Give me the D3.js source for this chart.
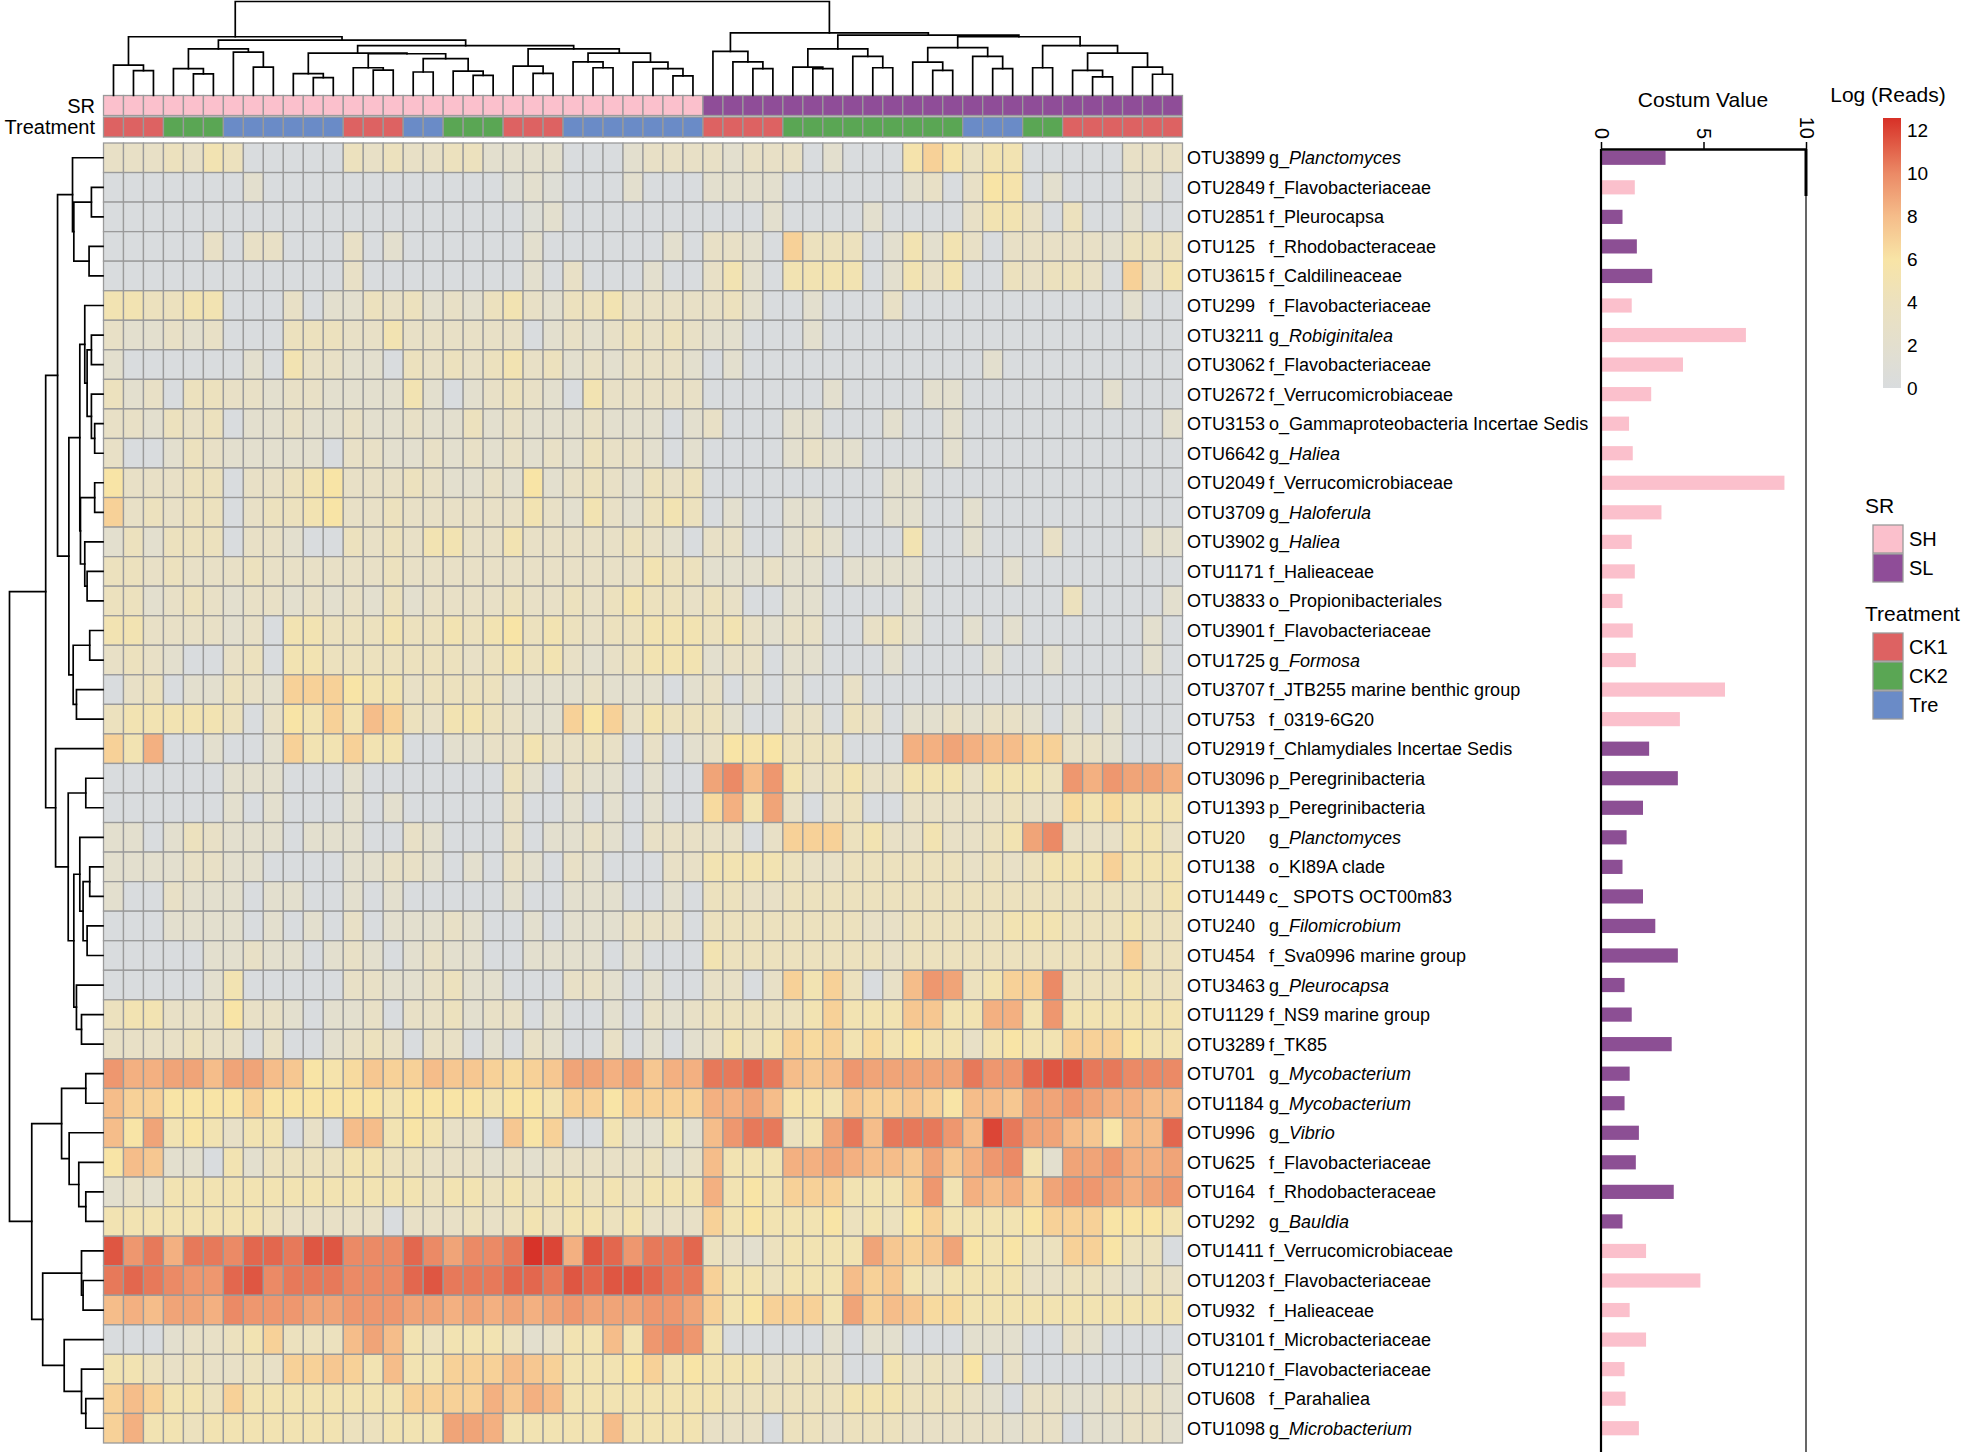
<!DOCTYPE html>
<html><head><meta charset="utf-8">
<script src="https://cdn.jsdelivr.net/npm/d3@7"></script>
<style>
body{margin:0;background:#fff}
svg{display:block}
text{font-family:"Liberation Sans",Arial,sans-serif;fill:#000}
</style>
</head><body>
<svg id="chart" width="1968" height="1452"></svg>
<script>
// ---------------- DATA ----------------
const otuIds = ["OTU3899","OTU2849","OTU2851","OTU125","OTU3615","OTU299","OTU3211","OTU3062","OTU2672","OTU3153","OTU6642","OTU2049","OTU3709","OTU3902","OTU1171","OTU3833","OTU3901","OTU1725","OTU3707","OTU753","OTU2919","OTU3096","OTU1393","OTU20","OTU138","OTU1449","OTU240","OTU454","OTU3463","OTU1129","OTU3289","OTU701","OTU1184","OTU996","OTU625","OTU164","OTU292","OTU1411","OTU1203","OTU932","OTU3101","OTU1210","OTU608","OTU1098"];
const taxRank = ["g_","f_","f_","f_","f_","f_","g_","f_","f_","o_","g_","f_","g_","g_","f_","o_","f_","g_","f_","f_","f_","p_","p_","g_","o_","c_","g_","f_","g_","f_","f_","g_","g_","g_","f_","f_","g_","f_","f_","f_","f_","f_","f_","g_"];
const taxName = ["Planctomyces","Flavobacteriaceae","Pleurocapsa","Rhodobacteraceae","Caldilineaceae","Flavobacteriaceae","Robiginitalea","Flavobacteriaceae","Verrucomicrobiaceae","Gammaproteobacteria Incertae Sedis","Haliea","Verrucomicrobiaceae","Haloferula","Haliea","Halieaceae","Propionibacteriales","Flavobacteriaceae","Formosa","JTB255 marine benthic group","0319-6G20","Chlamydiales Incertae Sedis","Peregrinibacteria","Peregrinibacteria","Planctomyces","KI89A clade"," SPOTS OCT00m83","Filomicrobium","Sva0996 marine group","Pleurocapsa","NS9 marine group","TK85","Mycobacterium","Mycobacterium","Vibrio","Flavobacteriaceae","Rhodobacteraceae","Bauldia","Verrucomicrobiaceae","Flavobacteriaceae","Halieaceae","Microbacteriaceae","Flavobacteriaceae","Parahaliea","Microbacterium"];
const costumValue = [3.1,1.6,1.0,1.7,2.45,1.45,7.02,3.95,2.4,1.32,1.5,8.9,2.9,1.45,1.6,1.0,1.5,1.65,6.0,3.8,2.3,3.7,2.0,1.2,1.0,2.0,2.6,3.7,1.1,1.45,3.4,1.35,1.1,1.8,1.65,3.5,1.0,2.15,4.8,1.35,2.15,1.1,1.15,1.8];
const costumGroup = ["SL","SH","SL","SL","SL","SH","SH","SH","SH","SH","SH","SH","SH","SH","SH","SH","SH","SH","SH","SH","SL","SL","SL","SL","SL","SL","SL","SL","SL","SL","SL","SL","SL","SL","SL","SL","SL","SH","SH","SH","SH","SH","SH","SH"];
const sampleSR = ["SH","SH","SH","SH","SH","SH","SH","SH","SH","SH","SH","SH","SH","SH","SH","SH","SH","SH","SH","SH","SH","SH","SH","SH","SH","SH","SH","SH","SH","SH",
  "SL","SL","SL","SL","SL","SL","SL","SL","SL","SL","SL","SL","SL","SL","SL","SL","SL","SL","SL","SL","SL","SL","SL","SL"];
const sampleTreatment = ["CK1","CK1","CK1","CK2","CK2","CK2","Tre","Tre","Tre","Tre","Tre","Tre","CK1","CK1","CK1","Tre","Tre","CK2","CK2","CK2","CK1","CK1","CK1","Tre","Tre","Tre","Tre","Tre","Tre","Tre",
  "CK1","CK1","CK1","CK1","CK2","CK2","CK2","CK2","CK2","CK2","CK2","CK2","CK2","Tre","Tre","Tre","CK2","CK2","CK1","CK1","CK1","CK1","CK1","CK1"];
const srLevels = ["SH","SL"];
const srColors = ["#FBC0CC","#8F4D98"];
const treatmentLevels = ["CK1","CK2","Tre"];
const treatmentColors = ["#DD6262","#5AA654","#6A8BC7"];
const colorTicks = [0,2,4,6,8,10,12];
const barTicks = [0,5,10];
const logReads = [
[3,3,3,4,3,5,4,0,0,0,0,0,4,3,4,3,3,4,4,2,2,2,2,0,0,0,2, 3,3,3,3,2,3,3,3,0,2,0,0,0,5.5,7,5.5,3.5,5,5,0,0,0,0,0,3,3,3],
[0,0,0,0,0,0,0,2,0,0,0,0,0,0,0,0,0,0,0,0,1,2,1,0,0,0,2, 0,0,0,2,2,2,2,0,0,0,0,0,0,2,3,0,3,6,5.5,0,2,0,0,0,2,2,0],
[0,0,0,0,0,0,0,0,0,0,0,0,0,0,0,0,0,0,0,0,0,1,2,0,0,0,0, 0,0,0,0,0,0,2,0,0,0,0,2,0,0,0,0,3,5,5,3,0,4,0,0,2,0,0],
[0,0,0,0,0,3,0,3,3,0,0,0,3,0,2,0,0,0,0,0,0,2,0,0,0,0,0, 0,2,0,3,3,2,0,7,4,4,4,0,2,5,2,5,3,0,3,3,3,3,3,2,4,4,4],
[0,0,0,0,0,0,0,0,0,0,0,0,3,0,0,0,0,0,0,0,0,2,0,3,0,0,0, 2,0,0,3,5,2,0,5,5,5,5,0,2,5,3,5,0,0,4,3,4,4,3,0,7,3,5],
[5,5,4,4,5,5,0,0,0,3,0,2,2,4,3,4,2,3,2,4,5,3,2,4,4,5,3, 3,3,3,3,4,2,0,0,2,0,0,0,3,0,0,0,0,0,0,0,0,0,0,0,2,0,0],
[3,2,2,3,2,3,0,0,0,4,4,4,3,3,5,3,3,3,3,3,3,0,2,3,2,3,4, 3,4,3,2,2,0,0,0,2,0,0,0,0,0,0,0,0,0,0,0,0,0,0,0,0,0,0],
[2,0,0,0,0,0,0,2,0,5,3,3,2,2,0,4,3,4,3,4,5,3,4,2,3,2,3, 3,3,2,0,2,0,0,0,0,0,0,0,0,0,0,0,0,2,0,0,0,0,0,0,0,0,0],
[4,2,3,0,4,4,3,3,2,3,3,2,2,2,2,5,2,0,2,3,4,3,2,0,5,3,3, 3,3,3,0,0,0,0,0,0,2,0,0,0,0,2,2,0,0,0,0,0,0,0,2,0,0,0],
[3,3,2,4,3,4,0,2,2,3,2,2,3,2,2,3,2,2,4,2,3,2,2,2,3,2,2, 2,0,2,3,0,0,0,2,2,0,0,0,2,0,0,2,0,0,0,0,0,0,0,0,0,0,2],
[3,0,0,2,4,3,2,2,2,2,2,0,3,3,2,2,3,2,3,2,3,2,3,2,4,3,3, 2,0,2,0,0,0,0,2,3,2,2,0,0,0,0,2,0,0,0,0,0,0,0,0,0,0,0],
[6,3,3,3,4,4,0,3,3,4,5,6,3,3,3,4,3,2,2,3,2,6,2,3,4,3,2, 4,3,4,0,0,0,0,0,0,0,0,0,2,2,0,0,0,0,0,0,0,0,0,0,0,0,0],
[7,3,4,3,4,4,0,3,4,4,5,6,3,3,4,3,3,3,3,3,3,5,3,2,5,3,2, 4,5,4,0,2,0,0,2,2,0,0,0,2,2,0,0,2,0,0,0,0,0,0,0,0,0,0],
[2,4,2,4,4,4,0,3,3,2,0,0,4,3,4,3,5,5,3,3,5,3,3,3,3,3,4, 3,2,0,3,3,0,0,2,3,2,0,0,0,5,0,0,2,0,0,0,3,0,0,0,0,2,2],
[4,4,3,4,3,3,3,4,3,3,3,3,3,3,4,3,3,3,3,3,3,3,3,3,3,3,3, 5,4,4,2,2,2,3,2,2,0,2,2,2,2,0,0,0,0,2,0,0,0,0,0,0,0,0],
[4,4,2,3,4,3,2,3,3,2,3,2,3,2,4,2,3,3,3,3,4,3,3,4,3,4,5, 4,4,3,4,3,0,0,2,2,0,0,0,0,2,0,0,0,0,0,0,0,4,0,0,0,0,2],
[5,5,3,3,3,3,2,3,0,5,5,4,4,4,5,4,4,5,4,5,6,4,5,4,3,4,4, 5,5,5,4,5,3,2,3,3,0,0,3,4,2,0,0,2,0,2,0,0,0,0,0,0,2,0],
[3,4,3,2,0,0,3,4,0,5,5,4,4,4,4,4,4,4,3,4,5,4,5,3,2,3,4, 5,5,5,2,3,3,0,2,2,0,0,0,2,0,0,0,0,2,0,0,2,0,0,0,0,2,0],
[0,3,4,0,2,2,4,3,2,7,7,7,6,5,5,3,4,4,4,4,2,2,2,2,3,2,2, 2,0,2,3,0,2,0,2,0,0,3,0,0,0,0,0,0,0,0,0,0,0,0,0,0,0,0],
[4,5,5,5,5,5,4,0,3,6,5,7,5,8,7,4,3,5,5,4,3,2,2,7,6,7,3, 5,4,4,4,2,0,0,3,3,0,4,3,0,2,2,3,2,3,3,2,0,2,0,2,0,0,0],
[7,5,8.5,0,0,2,0,0,2,7,5,5,7,5,5,0,0,2,2,3,3,5,3,3,4,3,0, 3,0,2,3,6,5.5,6,4,4,4,0,0,0,8.5,8.5,9,8.5,8,8,7,7,3,3,2,0,0,0],
[0,0,0,0,0,0,2,2,2,0,0,0,2,0,0,0,0,0,0,0,4,2,0,3,2,2,0, 2,0,0,9,10,8,9.5,5,3,4,5,3,3,5,5,5,3,5,5,5,4,9.5,8.5,9.5,9,9,8.5],
[0,0,0,0,0,0,2,0,2,0,0,0,2,0,2,0,0,0,0,0,3,0,0,2,0,2,0, 2,0,0,6.5,8.5,5,9,3,0,3,4,0,0,3,3,3,3,3,4,3,3,6.5,5,6.5,5,5,5],
[2,2,0,2,4,3,2,2,2,0,2,2,2,0,0,3,2,0,0,0,3,0,2,2,3,2,0, 3,3,3,3,3,0,3,7,7,7,4,5,3,3,5,3,3,4,5,9,10,3,3,3,5,5,3],
[2,2,2,2,3,3,2,2,0,0,0,0,2,2,3,3,2,0,2,0,3,2,0,3,2,0,0, 0,3,3,5,5,5,5,4,3,3,4,4,4,4,4,4,3,4,3,4,5,5,5,7,5,5,5],
[2,0,0,3,2,2,2,0,2,2,0,0,2,0,2,0,0,0,0,0,2,0,0,2,2,2,0, 0,2,0,4,4,3,3,4,4,4,4,4,4,4,4,4,4,4,4,4,4,4,4,4,4,4,5],
[0,0,0,2,2,2,2,0,2,0,2,0,3,0,2,2,2,3,2,0,0,2,0,2,2,2,3, 3,3,0,4,4,4,4,4,4,4,4,3,3,4,4,4,4,4,5,5,5,4,4,4,5,4,4],
[0,0,0,0,0,2,2,3,2,2,0,2,3,2,0,2,3,2,2,0,0,2,2,2,2,0,2, 0,0,0,5,4,4,4,4,4,4,4,4,3,4,4,4,4,4,4,4,4,4,4,4,7,4,4],
[0,0,0,0,0,2,5,0,0,0,0,0,3,3,2,2,3,4,2,2,0,0,0,3,3,2,0, 2,0,0,3,3,0,3,7,5,7,4,0,3,8,9.5,9,4,5,7,7,10,4,4,4,5,4,4],
[4,5,5,3,3,3,6,3,3,2,0,2,2,3,0,3,3,4,2,3,3,0,2,0,0,2,0, 3,2,3,4,4,4,4,4,5,7,5,5,5,7.5,7.5,5,5,8.5,8.5,5,9.5,5,5,5,5,5,5],
[3,3,3,3,4,3,3,0,3,0,0,2,3,4,3,0,3,3,0,2,0,3,2,0,0,3,0, 2,0,2,3,5,4,5,7,6.5,7,5,6.5,5,6,5,5,3,5,6,5,5,7,7,7,6,5,5],
[9.5,8.5,8.5,9,9,8,9,9,8,7.5,6,5.5,6.5,7.5,7,7,8,7.5,7.5,7,6.5,7,7.5,9,9,8.5,9, 7.5,8.5,8.5,10.5,10.5,11,10.5,8,7.5,8,9.5,9,9,9,9,9,10.5,9.5,9.5,11,11.5,11.5,10.5,10.5,10,10,10],
[8,7,7,6,6,6,6,7,6,6,6,6,6,6,5,6,6,6,6,5,6,6,5,7,7,6,7, 7,7,7,8.5,8.5,9,8,5.5,5.5,5,7.5,7,7,7.5,7,6,8,8,7.5,9,9,9.5,9,8.5,8.5,8,8],
[8,6,9,5,6,5,3,5,5,0,3,0,8,8,5,6,5,3,3,0,7.5,6,7,0,0,5,2, 2,5,2,8,9.5,10.5,10.5,4,5,9,10.5,8,10.5,10.5,10.5,9.5,8,12,10.5,9,9,8,7.5,6,8,8,11],
[6,8,7.5,2,2,0,5,2,4,4,4,4,5,5,4,4,3,3,3,2,3,2,3,3,3,3,3, 4,2,3,8,5,5,5,8.5,8.5,9,8.5,8,8,7.5,9,7.5,8.5,9.5,10,5,2,9,9,9.5,8.5,8.5,9],
[2,3,2,5,5,5,5,5,5,5,5,5,5,5,5,5,4,5,5,4,5,4,5,5,4,5,4, 5,5,5,8.5,5,6,5,7,7,7,5,5,5,7,9.5,5,8.5,8,8.5,7,9,9.5,9.5,9,8.5,9,9.5],
[5,5,5,5,5,5,5,5,4,3,3,3,3,3,0,3,3,3,4,3,4,5,4,5,5,4,5, 3,3,3,7,5,6,5,5,5,6,4,5,4,6,7,5,5,5,5,6,7,7,7,6,6,6,5],
[11.5,9.5,10.5,8.5,10.5,10.5,10,11,11,10.5,11.5,11.5,10,10,10,11,10,9,10,10,10.5,12.5,12,8.5,11.5,11,9.5, 10.5,10.5,11,4,3,2,4,5,5,5,5,9,7.5,7,7.5,9,6,5,6,4,4,7,7,6,4,4,0],
[10.5,11,10.5,10,9.5,9.5,11,11.5,10,10.5,10.5,10.5,10,10,10,11,11.5,10.5,10.5,10.5,11,11,10.5,11.5,11,11.5,11.5, 11,10.5,10.5,7,5,5,4,5,5,5,8,7,7.5,5,4,5,5,5,5,3,3,4,4,3,2,4,3],
[8,8.5,8,9,9,8.5,10,9.5,9.5,9.5,9,9,9.5,9.5,9.5,9,9,8.5,9,8.5,9,8.5,9,9.5,9,9,9, 9.5,9.5,9,7,5,6,7,7,7,5,9,7,8,7.5,6.5,6.5,5,5,5,5,5,5,5,5,5,5,5],
[0,0,0,2,3,3,4,5,7,4,4,4,8,9,8,5,4,5,5,5,4,2,3,5,5,8,5, 9.5,10,9.5,5,0,0,0,0,0,2,0,2,2,0,0,0,2,2,2,0,0,3,2,0,0,0,0],
[5,5,4,3,4,3,3,4,3,7,7,7.5,7,5,8,5,5,7,7,7,8,7.5,7,5,5,5,6, 7,5,6,5,5,5,3,4,4,3,0,0,5,3,4,3,6,0,3,0,0,0,0,0,0,0,2],
[7,8,7,5,5,4,7,5,5,5,5,5,5,5,5,7,7,7,7,8.5,7.5,8.5,8,5,5,5,5, 5,5,5,5,4,4,4,4,4,4,5,5,5,4,4,4,3,2,0,3,3,2,2,3,3,3,2],
[7,8.5,5,5,4,5,5,5,5,5,5,5,4,4,5,5,5,9,9,8.5,5,5,5,5,5,8,5, 5,5,5,3,3,3,0,4,4,3,4,4,4,3,3,3,3,3,2,3,3,0,2,2,3,3,2]
];
// dendrograms: [height, left, right]; leaves are row / column indices
const rowTree = [100,
  [61.3,
    [48.6,
      [32.6, 0, [31.2, [12.4,1,2], [14.9,3,4]]],
      [36.5,
        [24.8,
          [19.5, 5, [17, [12.4,6,7], [12.4, 8, [8.9,9,10]]]],
          [24.1, [8.9,11,12], [19.5, 13, [17,14,15]]]
        ],
        [31.9, [14.2,16,17], [28.4,18,19]]
      ]
    ],
    [50.7, 20,
      [37.2, [18.4,21,22],
        [31.2,
          [24.8, 23, [21.3, [14.2,24,25], [17,26,27]]],
          [28.4, 28, [23,29,30]]
        ]
      ]
    ]
  ],
  [76.2,
    [44.3, [18.4,31,32], [36.2, 33, [25.9, 34, [18.4,35,36]]]],
    [64.5,
      [23, 37, [21.3,38,39]],
      [41.5, 40, [23, 41, [18.4,42,43]]]
    ]
  ]
];
const colTree = [100,
  [62.5,
    [32.3, 0, [26.4,1,2]],
    [59,
      [49.7, [28.5, 3, [22.9,4,5]], [46.2, 6, [30.2,7,8]]],
      [53.1,
        [45.1, [23.3, 9, [19.1,10,11]], [44.4, [29.5, 12, [27.1,13,14]], [39.2, [25,15,16], [26, 17, [21.5,18,19]]]]],
        [49.7, [31.2, 20, [23.6,21,22]], [45.1, [35.8, 23, [29.5,24,25]], [35.4, 26, [28.5, 27, [20.8,28,29]]]]]
      ]
    ]
  ],
  [66.7,
    [46.9, 30, [35.8, 31, [28.5,32,33]]],
    [64.2,
      [49.7, [30.2, 34, [28.5,35,36]], [41.7, 37, [29.5,38,39]]],
      [62.5,
        [51, [35.4, 40, [26.7,41,42]], [41.7, 43, [28.5,44,45]]],
        [53.1, [29.5,46,47], [45.1, [26.7, 48, [19.8,49,50]], [30.2, 51, [22.6,52,53]]]]
      ]
    ]
  ]
];

// ---------------- DRAW ----------------
const svg = d3.select("#chart");
const nRows = otuIds.length, nCols = sampleSR.length;
const xCol = d3.scaleBand().domain(d3.range(nCols)).range([103.5, 1182.5]).padding(0);
const yRow = d3.scaleBand().domain(d3.range(nRows)).range([143, 1443]).padding(0);
const color = d3.scaleLinear()
  .domain([0, 2, 4, 6, 8, 10, 12.6])
  .range(["#D9DCDE","#E3DFCE","#ECE1BE","#F8E4A6","#F5BD8A","#EB8A66","#D73027"])
  .clamp(true);
const srColor = d3.scaleOrdinal(srLevels, srColors);
const trColor = d3.scaleOrdinal(treatmentLevels, treatmentColors);
const cellStroke = "#9A9A9A";

// heatmap cells
const cells = [];
logReads.forEach((row, r) => row.forEach((v, c) => cells.push({r, c, v})));
svg.append("g").selectAll("rect").data(cells).join("rect")
  .attr("x", d => xCol(d.c)).attr("y", d => yRow(d.r))
  .attr("width", xCol.bandwidth()).attr("height", yRow.bandwidth())
  .attr("fill", d => color(d.v))
  .attr("stroke", cellStroke).attr("stroke-width", 1.3);

// annotation bars
const annSR = svg.append("g");
annSR.selectAll("rect").data(sampleSR).join("rect")
  .attr("x", (d, i) => xCol(i)).attr("y", 95.5)
  .attr("width", xCol.bandwidth()).attr("height", 20)
  .attr("fill", d => srColor(d)).attr("stroke", cellStroke).attr("stroke-width", 1.3);
const annTr = svg.append("g");
annTr.selectAll("rect").data(sampleTreatment).join("rect")
  .attr("x", (d, i) => xCol(i)).attr("y", 117)
  .attr("width", xCol.bandwidth()).attr("height", 20)
  .attr("fill", d => trColor(d)).attr("stroke", cellStroke).attr("stroke-width", 1.3);
svg.append("text").attr("x", 95).attr("y", 105.5).attr("dy", "0.35em")
  .attr("text-anchor", "end").style("font-size", "20px").text("SR");
svg.append("text").attr("x", 95).attr("y", 127).attr("dy", "0.35em")
  .attr("text-anchor", "end").style("font-size", "20px").text("Treatment");

// dendrograms
function drawTree(tree, band, hScale, vertical) {
  const segs = [];
  function rec(node) {
    if (typeof node === "number") return {p: band(node) + band.bandwidth() / 2, h: 0};
    const [h, a, b] = node;
    const A = rec(a), B = rec(b);
    segs.push([[A.p, A.h], [A.p, h], [B.p, h], [B.p, B.h]]);
    return {p: (A.p + B.p) / 2, h};
  }
  const root = rec(tree);
  const line = vertical
    ? d3.line().x(d => d[0]).y(d => hScale(d[1]))
    : d3.line().x(d => hScale(d[1])).y(d => d[0]);
  const g = svg.append("g");
  g.selectAll("path").data(segs).join("path")
    .attr("d", line).attr("fill", "none").attr("stroke", "#000")
    .attr("stroke-width", 1.7).attr("stroke-linecap", "square");
  return root;
}
drawTree(colTree, xCol, d3.scaleLinear([0, 100], [95.5, 1.5]), true);
drawTree(rowTree, yRow, d3.scaleLinear([0, 100], [103, 9.5]), false);

// row labels
const labels = svg.append("g").style("font-size", "18px");
otuIds.forEach((id, i) => {
  const t = labels.append("text")
    .attr("x", 1187).attr("y", yRow(i) + yRow.bandwidth() / 2).attr("dy", "0.36em")
    .style("white-space", "pre");
  t.append("tspan").text(id);
  t.append("tspan").attr("x", 1269).text(taxRank[i]);
  t.append("tspan").style("font-style", taxRank[i] === "g_" ? "italic" : "normal").text(taxName[i]);
});

// bar chart
const xBar = d3.scaleLinear().domain([0, 10]).range([1601, 1806]);
const barColor = d3.scaleOrdinal(srLevels, ["#FBC0CC","#8C4F94"]);
svg.append("g").selectAll("rect").data(costumValue).join("rect")
  .attr("x", xBar(0) + 1)
  .attr("y", (d, i) => yRow(i) + yRow.bandwidth() * 0.26)
  .attr("width", d => xBar(d) - xBar(0))
  .attr("height", yRow.bandwidth() * 0.48)
  .attr("fill", (d, i) => barColor(costumGroup[i]));
// frame
svg.append("line").attr("x1", xBar(0)).attr("x2", xBar(0)).attr("y1", 149).attr("y2", 1452)
  .attr("stroke", "#000").attr("stroke-width", 2.2);
svg.append("line").attr("x1", xBar(10)).attr("x2", xBar(10)).attr("y1", 149).attr("y2", 1452)
  .attr("stroke", "#000").attr("stroke-width", 1.2);
svg.append("line").attr("x1", xBar(10)).attr("x2", xBar(10)).attr("y1", 149).attr("y2", 196)
  .attr("stroke", "#000").attr("stroke-width", 3);
const axTop = svg.append("g").attr("transform", "translate(0,149)")
  .call(d3.axisTop(xBar).tickValues(barTicks).tickSize(7).tickSizeOuter(0).tickFormat(d3.format("d")));
axTop.select(".domain").attr("stroke", "#000").attr("stroke-width", 2.5);
axTop.selectAll(".tick line").attr("stroke", "#000").attr("stroke-width", 1.5);
axTop.selectAll(".tick text")
  .attr("transform", "translate(0,-10) rotate(90)")
  .attr("x", 0).attr("y", 0).attr("dy", "0.35em")
  .attr("text-anchor", "end")
  .style("font-size", "20px").style("font-family", "'Liberation Sans',Arial,sans-serif").attr("fill", "#000");
svg.append("text").attr("x", 1703).attr("y", 100).attr("dy", "0.35em")
  .attr("text-anchor", "middle").style("font-size", "21px").text("Costum Value");

// color legend
const defs = svg.append("defs");
const grad = defs.append("linearGradient").attr("id", "cgrad")
  .attr("x1", "0").attr("x2", "0").attr("y1", "1").attr("y2", "0");
const cDom = color.domain();
cDom.forEach(v => grad.append("stop")
  .attr("offset", v / cDom[cDom.length - 1]).attr("stop-color", color(v)));
const yLeg = d3.scaleLinear().domain([0, 12.6]).range([388, 118]);
svg.append("rect").attr("x", 1883).attr("y", yLeg(12.6)).attr("width", 18)
  .attr("height", yLeg(0) - yLeg(12.6)).attr("fill", "url(#cgrad)");
const legAx = svg.append("g").attr("transform", "translate(1901,0)")
  .call(d3.axisRight(yLeg).tickValues(colorTicks).tickSize(0).tickPadding(6));
legAx.select(".domain").remove();
legAx.selectAll(".tick text").style("font-size", "19px")
  .style("font-family", "'Liberation Sans',Arial,sans-serif").attr("fill", "#000");
svg.append("text").attr("x", 1888).attr("y", 95).attr("dy", "0.35em")
  .attr("text-anchor", "middle").style("font-size", "21px").text("Log (Reads)");

// annotation legends
function catLegend(title, levels, scale, titleY) {
  const g = svg.append("g");
  g.append("text").attr("x", 1865).attr("y", titleY).attr("dy", "0.35em")
    .style("font-size", "21px").text(title);
  levels.forEach((lv, i) => {
    const y0 = titleY + 19 + i * 29;
    g.append("rect").attr("x", 1873).attr("y", y0).attr("width", 30).attr("height", 28)
      .attr("fill", scale(lv)).attr("stroke", cellStroke).attr("stroke-width", 1.3);
    g.append("text").attr("x", 1909).attr("y", y0 + 14).attr("dy", "0.35em")
      .style("font-size", "20px").text(lv);
  });
}
catLegend("SR", srLevels, srColor, 506);
catLegend("Treatment", treatmentLevels, trColor, 614);
</script>
</body></html>
